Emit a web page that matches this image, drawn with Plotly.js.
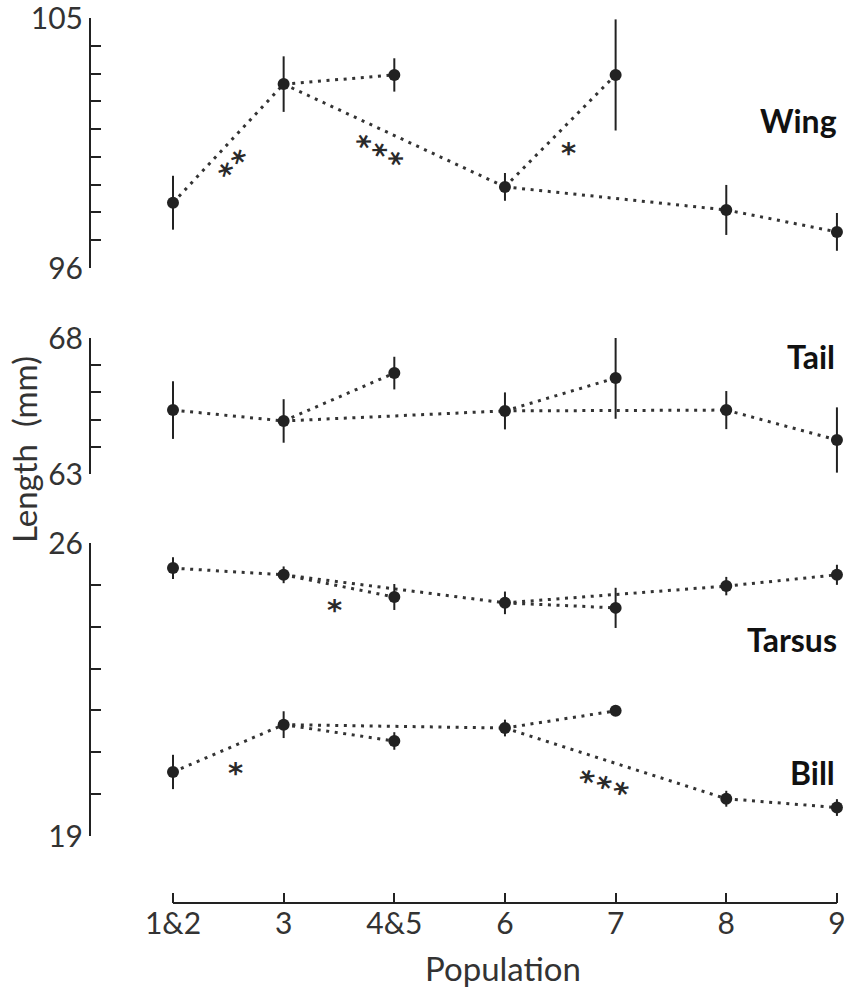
<!DOCTYPE html>
<html><head><meta charset="utf-8">
<script src="https://cdn.plot.ly/plotly-3.0.1.min.js"></script>
<style>html,body{margin:0;padding:0;background:#fff}</style>
</head><body><div id="chart" style="width:853px;height:987px"></div>
<script>
// ---- data ----
const populations = ["1&2", "3", "4&5", "6", "7", "8", "9"];
const wingMean   = [98.35, 102.62, 102.95, 98.92, 102.95, 98.09, 97.30];
const wingErr    = [0.97, 1.0, 0.6, 0.5, 2.0, 0.9, 0.68];
const tailMean   = [65.35, 64.95, 66.71, 65.32, 66.53, 65.35, 64.25];
const tailErr    = [1.06, 0.8, 0.6, 0.68, 1.5, 0.7, 1.2];
const tarsusMean = [25.40, 25.24, 24.71, 24.57, 24.45, 24.97, 25.24];
const tarsusErr  = [0.26, 0.2, 0.31, 0.27, 0.48, 0.22, 0.24];
const billMean   = [20.53, 21.66, 21.27, 21.58, 21.99, 19.89, 19.68];
const billErr    = [0.41, 0.32, 0.21, 0.2, 0, 0.19, 0.2];
// population pairs joined by dotted lines
const links = [["1&2","3"], ["3","4&5"], ["3","6"], ["6","7"], ["6","8"], ["8","9"]];
const wingTicks = [96,97,98,99,100,101,102,103,104,105];
const tailTicks = [63,64,65,66,67,68];
const tbTicks   = [19,20,21,22,23,24,25,26];
const panelNames = ["Wing", "Tail", "Tarsus", "Bill"];
const sigWing = ["**", "***", "*"];
const sigTarsus = ["*"];
const sigBill = ["*", "***"];

// ---- styling / layout helpers ----
const FONT = "Lato, 'Open Sans', sans-serif";
const STARFONT = "'DejaVu Sans', sans-serif";
const INK = "#222";
const W = 853, H = 987;
const px = v => v / W, py = v => 1 - v / H;

function linkTrace(means, yax) {
  const xs = [], ys = [];
  links.forEach(([a, b]) => {
    xs.push(a, b, null);
    ys.push(means[populations.indexOf(a)], means[populations.indexOf(b)], null);
  });
  return {x: xs, y: ys, yaxis: yax, type: "scatter", mode: "lines", connectgaps: false,
    line: {color: "#333", width: 3, dash: "3px,5.6px"}, hoverinfo: "skip", showlegend: false};
}
function pointTrace(means, errs, yax) {
  return {x: populations, y: means, yaxis: yax, type: "scatter", mode: "markers",
    marker: {color: INK, size: 12}, showlegend: false,
    error_y: {type: "data", array: errs, visible: true, color: INK, thickness: 2, width: 0}};
}

const data = [
  linkTrace(wingMean, "y"), linkTrace(tailMean, "y2"), linkTrace(tarsusMean, "y3"), linkTrace(billMean, "y3"),
  pointTrace(wingMean, wingErr, "y"), pointTrace(tailMean, tailErr, "y2"),
  pointTrace(tarsusMean, tarsusErr, "y3"), pointTrace(billMean, billErr, "y3")
];

function yAxis(ticks, top, bottom) {
  return {domain: [py(bottom), py(top)], range: [ticks[0], ticks[ticks.length - 1]],
    anchor: "free", position: px(90), showline: true, linecolor: INK, linewidth: 2,
    ticks: "inside", ticklen: 10, tickwidth: 2, tickcolor: INK, ticklabeloverflow: "allow",
    tickvals: ticks, ticktext: ticks.map((t, i) => (i === 0 || i === ticks.length - 1) ? String(t) : ""),
    tickfont: {family: FONT, size: 30, color: "#333"}, showgrid: false, zeroline: false, fixedrange: true};
}

// significance marks: [x (category index), y (axis units), angle]
const starPos = {
  wing: [[0.511, 99.83, -45], [1.879, 100.37, 28], [3.578, 100.43, 0]],
  tarsus: [[1.464, 24.59, 0]],
  bill: [[0.569, 20.70, 0], [3.903, 20.35, 19]]
};
const annotations = [];
const HAIR = "\u200A";
function stars(list, pos, yref) {
  list.forEach((s, i) => {
    const [x, y, ang] = pos[i];
    const r = ang * Math.PI / 180, off = 8;
    annotations.push({text: "<b>" + s.split("").join(HAIR) + "</b>", x: x, y: y, xref: "x", yref: yref,
      textangle: ang, xanchor: "center", yanchor: "middle", showarrow: false,
      xshift: -Math.sin(r) * off, yshift: -Math.cos(r) * off,
      font: {family: STARFONT, size: 29, color: "#2a2a2a"}});
  });
}
stars(sigWing, starPos.wing, "y");
stars(sigTarsus, starPos.tarsus, "y3");
stars(sigBill, starPos.bill, "y3");

const labelPos = [[798, 121], [811, 357], [792, 639], [812, 772]];
panelNames.forEach((n, i) => annotations.push({text: "<b>" + n + "</b>", x: px(labelPos[i][0]), y: py(labelPos[i][1]),
  xref: "paper", yref: "paper", xanchor: "center", yanchor: "middle", showarrow: false,
  font: {family: FONT, size: 32, color: "#111"}}));
annotations.push({text: "Length  (mm)", textangle: -90, x: px(24), y: py(450), xref: "paper", yref: "paper",
  xanchor: "center", yanchor: "middle", showarrow: false, font: {family: FONT, size: 33, color: "#333"}});
annotations.push({text: "Population", x: px(503), y: py(968), xref: "paper", yref: "paper",
  xanchor: "center", yanchor: "middle", showarrow: false, font: {family: FONT, size: 33, color: "#333"}});

const layout = {
  width: W, height: H, margin: {l: 0, r: 0, t: 0, b: 0}, paper_bgcolor: "#fff", plot_bgcolor: "#fff",
  showlegend: false,
  xaxis: {type: "category", categoryarray: populations, categoryorder: "array",
    domain: [px(90), px(848)], range: [-0.75, 6.1], anchor: "free", position: py(903),
    showline: false, ticks: "inside", ticklen: 10, tickwidth: 2, tickcolor: INK,
    tickfont: {family: FONT, size: 30, color: "#333"}, showgrid: false, zeroline: false, fixedrange: true},
  yaxis: yAxis(wingTicks, 18, 268),
  yaxis2: yAxis(tailTicks, 338, 474),
  yaxis3: yAxis(tbTicks, 543, 836),
  shapes: [{type: "line", xref: "x", yref: "paper", x0: 0, x1: 6, y0: py(903), y1: py(903),
    line: {color: INK, width: 2}}],
  annotations: annotations
};
Plotly.newPlot("chart", data, layout, {displayModeBar: false, staticPlot: true});
</script></body></html>
